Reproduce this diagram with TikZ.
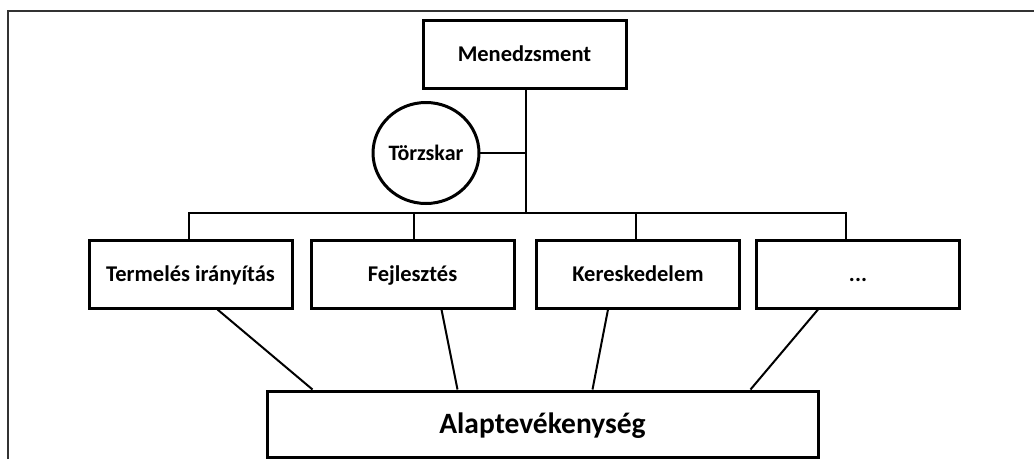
\documentclass[tikz,border=0pt]{standalone}
\usepackage{fontspec}
\setmainfont{Carlito}
\usetikzlibrary{positioning,
                shapes.geometric}

\begin{document}
\begin{tikzpicture}%
    [x = 1pt, y = -1pt,
     box/.style = {draw, line width = 3pt, rectangle, minimum width = 203pt, minimum height = 68pt,
                   inner sep = 0pt, text height = 14.5pt, text depth = 0pt,
                   font = \fontsize{22.5}{26}\selectfont\bfseries},
     staff/.style = {draw, line width = 3pt, ellipse, minimum width = 93pt, minimum height = 101pt,
                     inner sep = 0pt, text height = 14pt, text depth = 0pt,
                     font = \fontsize{22}{26}\selectfont\bfseries},
     conn/.style = {line width = 2pt},
     frame/.style = {line width = 2.2pt, black!80}]
    \useasboundingbox (0,0) rectangle (1034,459);
    \draw [frame] (8,459) -- (8,11) -- (1034,11);

    \node [box] (menedzsment) at (524.5,54) {Menedzsment};
    \node [staff] (torzskar) at (426,153) {Törzskar};

    \node [box] (termeles)     at (190.5,274) {Termelés irányítás};
    \node [box] (fejlesztes)   at (412.5,274) {Fejlesztés};
    \node [box] (kereskedelem) at (638,274)   {Kereskedelem};
    \node [box] (egyeb)        at (858,274)   {...};

    \node [box, minimum width = 551pt, minimum height = 66pt, text height = 19pt,
           font = \fontsize{29.5}{34}\selectfont\bfseries]
        (alap) at (542.5,424) {Alaptevékenység};

    \coordinate (bus) at ([xshift=1.5pt]menedzsment.south |- 0,213);
    \draw [conn] ([xshift=1.5pt]menedzsment.south) -- (bus);
    \draw [conn] (torzskar.east) -- (torzskar.east -| bus);
    \draw [conn] ([xshift=-2pt]termeles.north) -- ([xshift=-2pt]termeles.north |- bus)
        -- ([xshift=-12pt]egyeb.north |- bus) -- ([xshift=-12pt]egyeb.north);
    \draw [conn] ([xshift=1.5pt]fejlesztes.north) -- ([xshift=1.5pt]fejlesztes.north |- bus);
    \draw [conn] ([xshift=-2pt]kereskedelem.north) -- ([xshift=-2pt]kereskedelem.north |- bus);

    \draw [conn] ([xshift=27pt]termeles.south) -- ([xshift=-230pt]alap.north);
    \draw [conn] ([xshift=29pt]fejlesztes.south) -- ([xshift=-85pt]alap.north);
    \draw [conn] ([xshift=-30pt]kereskedelem.south) -- ([xshift=50pt]alap.north);
    \draw [conn] ([xshift=-40pt]egyeb.south) -- ([xshift=208pt]alap.north);
\end{tikzpicture}
\end{document}
